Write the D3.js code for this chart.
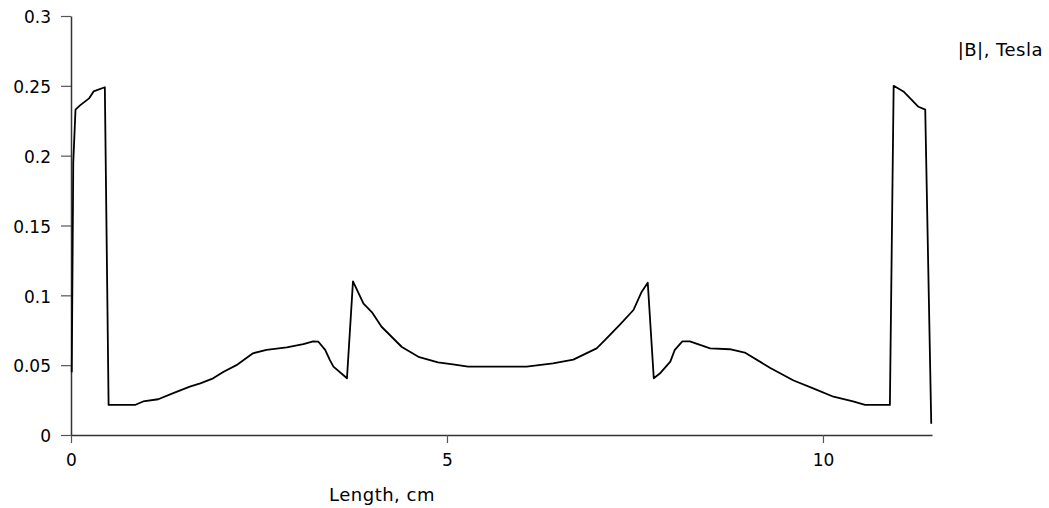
<!DOCTYPE html>
<html>
<head>
<meta charset="utf-8">
<script src="https://cdn.jsdelivr.net/npm/d3@7/dist/d3.min.js"></script>
<style>
  html, body { margin: 0; padding: 0; background: #fff; }
  svg { display: block; }
  text { font-family: "DejaVu Sans", Verdana, sans-serif; fill: #000; }
</style>
</head>
<body>
<svg id="chart" width="1049" height="508"></svg>
<script>
// Magnetic flux density |B| along the length of the device
const lengthCm = [
  0.01, 0.03, 0.06, 0.12, 0.24, 0.30, 0.45, 0.50, 0.85, 0.96,
  1.16, 1.36, 1.58, 1.72, 1.89, 2.03, 2.20, 2.42, 2.60, 2.87,
  3.09, 3.22, 3.29, 3.38, 3.44, 3.49, 3.67, 3.75, 3.89, 4.00,
  4.13, 4.40, 4.62, 4.88, 5.08, 5.28, 6.06, 6.41, 6.68, 6.99,
  7.10, 7.30, 7.48, 7.59, 7.67, 7.75, 7.83, 7.97, 8.03, 8.13,
  8.23, 8.50, 8.76, 8.96, 9.30, 9.61, 9.87, 10.14, 10.40, 10.56,
  10.89, 10.94, 11.07, 11.27, 11.36, 11.44
];
const fieldTesla = [
  0.045, 0.195, 0.233, 0.236, 0.241, 0.246, 0.249, 0.0215, 0.0215, 0.024,
  0.0256, 0.030, 0.0346, 0.037, 0.0406, 0.0453, 0.050, 0.0585, 0.061, 0.0628,
  0.065, 0.067, 0.0668, 0.061, 0.054, 0.049, 0.0406, 0.110, 0.094, 0.088,
  0.0775, 0.063, 0.056, 0.052, 0.0506, 0.049, 0.049, 0.0513, 0.054, 0.062,
  0.068, 0.079, 0.0895, 0.1026, 0.109, 0.0406, 0.044, 0.0525, 0.061, 0.067,
  0.067, 0.062, 0.0614, 0.059, 0.048, 0.039, 0.0334, 0.0274, 0.024, 0.0215,
  0.0215, 0.250, 0.246, 0.235, 0.233, 0.008
];

const xTickValues = [0, 5, 10];
const xTickLabels = ["0", "5", "10"];
const yTickValues = [0, 0.05, 0.1, 0.15, 0.2, 0.25, 0.3];
const yTickLabels = ["0", "0.05", "0.1", "0.15", "0.2", "0.25", "0.3"];

const xTitle = "Length, cm";
const yTitle = "|B|, Tesla";

const svg = d3.select("#chart");
const plotLeft = 71, plotRight = 932, plotTop = 16, plotBottom = 435;

const x = d3.scaleLinear().domain([0, 11.45]).range([plotLeft, plotRight]);
const y = d3.scaleLinear().domain([0, 0.3]).range([plotBottom, plotTop]);

const xAxis = d3.axisBottom(x)
  .tickValues(xTickValues)
  .tickFormat((d, i) => xTickLabels[i])
  .tickSize(8)
  .tickSizeOuter(0)
  .tickPadding(11);

const yAxis = d3.axisLeft(y)
  .tickValues(yTickValues)
  .tickFormat((d, i) => yTickLabels[i])
  .tickSize(10)
  .tickSizeOuter(0)
  .tickPadding(10);

const gx = svg.append("g").attr("transform", `translate(0,${plotBottom})`).call(xAxis);
const gy = svg.append("g").attr("transform", `translate(${plotLeft},0)`).call(yAxis);

[gx, gy].forEach(g => {
  g.select(".domain").attr("stroke", "#333").attr("stroke-width", 1.5);
  g.selectAll(".tick line").attr("stroke", "#555").attr("stroke-width", 1.2);
  g.selectAll(".tick text")
    .attr("fill", "#000")
    .style("font-family", '"DejaVu Sans", Verdana, sans-serif')
    .style("font-size", "17px");
});
gy.selectAll(".tick text").attr("dy", "0.4em");

const line = d3.line()
  .x((d, i) => x(lengthCm[i]))
  .y(d => y(d));

svg.append("path")
  .datum(fieldTesla)
  .attr("fill", "none")
  .attr("stroke", "#000")
  .attr("stroke-width", 1.8)
  .attr("stroke-linejoin", "round")
  .attr("d", line);

svg.append("text")
  .attr("x", 382)
  .attr("y", 501)
  .attr("text-anchor", "middle")
  .style("font-size", "18px")
  .style("letter-spacing", "0.5px")
  .text(xTitle);

svg.append("text")
  .attr("x", 1043)
  .attr("y", 56)
  .attr("text-anchor", "end")
  .style("font-size", "18px")
  .style("letter-spacing", "0.5px")
  .text(yTitle);
</script>
</body>
</html>
